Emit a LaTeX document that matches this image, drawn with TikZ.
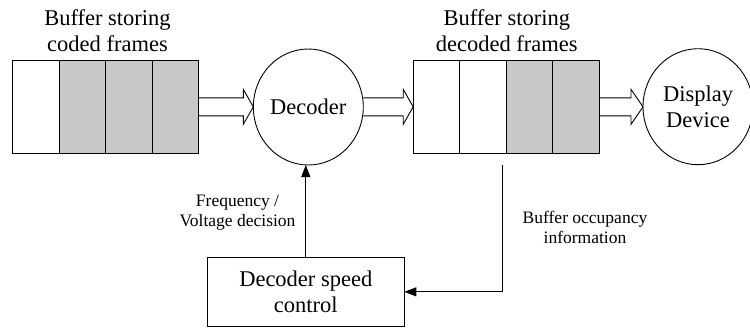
\documentclass[tikz,border=0pt]{standalone}
\usepackage{fontspec}
\setmainfont{Liberation Serif}
\usetikzlibrary{arrows.meta,shapes.geometric,calc}
\definecolor{cellgray}{RGB}{200,200,200}
\begin{document}
\begin{tikzpicture}[x=1pt,y=-1pt,
  line width=0.9pt,
  bigfont/.style={font=\fontsize{22.5}{26.7}\selectfont},
  smallfont/.style={font=\fontsize{17.5}{20.5}\selectfont},
  cell/.style={draw, minimum width=46.5pt, minimum height=92.3pt, inner sep=0pt, outer sep=0pt},
  fullcell/.style={cell, fill=cellgray},
  emptycell/.style={cell, fill=white},
  proc/.style={draw, ellipse, minimum width=110pt, minimum height=116pt, inner sep=0pt, outer sep=0pt, bigfont, align=center},
  ctrlbox/.style={draw, minimum width=197pt, minimum height=68.3pt, inner sep=0pt, outer sep=0pt, bigfont, align=center},
  lbl/.style={align=center, inner sep=0pt},
  sig/.style={-{Triangle[length=12pt,width=9pt]}},
  hollow/.style={draw, line join=miter}
]
\useasboundingbox (0,0) rectangle (750,327);
\clip (0,0) rectangle (750,327);

% buffer of coded frames
\node[emptycell] (a1) at (35.95,106.85) {};
\node[fullcell]  (a2) at (82.45,106.85) {};
\node[fullcell]  (a3) at (128.95,106.85) {};
\node[fullcell]  (a4) at (175.45,106.85) {};

% buffer of decoded frames
\node[emptycell] (b1) at (436.45,106.85) {};
\node[emptycell] (b2) at (482.95,106.85) {};
\node[fullcell]  (b3) at (529.45,106.85) {};
\node[fullcell]  (b4) at (575.95,106.85) {};

\node[proc] (dec) at (308.3,107) {Decoder};
\node[proc] (disp) at (698,106.7) {Display\\Device};
\node[ctrlbox] (ctrl) at (305.8,291.85) {Decoder speed\\control};

\node[lbl,bigfont] (t1) at (107.5,30.6) {Buffer storing\\coded frames};
\node[lbl,bigfont] (t2) at (506.8,30.6) {Buffer storing\\decoded frames};
\node[lbl,smallfont] (t3) at (237.5,212.75) {Frequency /\\Voltage decision};
\node[lbl,smallfont] (t4) at (585,227.65) {Buffer occupancy\\information};

% hollow data-flow arrows
\draw[hollow] let \p1=(a4.east), \p2=(dec.west) in
  (\x1,\y1+9pt) -- (\x2-10pt,\y1+9pt) -- (\x2-10pt,\y1+17.5pt) -- (\x2,\y1)
  -- (\x2-10pt,\y1-17.5pt) -- (\x2-10pt,\y1-9pt) -- (\x1,\y1-9pt);
\draw[hollow] let \p1=(dec.east), \p2=(b1.west) in
  (\x1,\y2+9pt) -- (\x2-10pt,\y2+9pt) -- (\x2-10pt,\y2+17.5pt) -- (\x2,\y2)
  -- (\x2-10pt,\y2-17.5pt) -- (\x2-10pt,\y2-9pt) -- (\x1,\y2-9pt);
\draw[hollow] let \p1=(b4.east), \p2=(disp.west) in
  (\x1,\y1+9pt) -- (\x2-12pt,\y1+9pt) -- (\x2-12pt,\y1+17.5pt) -- (\x2,\y1)
  -- (\x2-12pt,\y1-17.5pt) -- (\x2-12pt,\y1-9pt) -- (\x1,\y1-9pt);

% control arrows
\coordinate (fb) at (502.7,165);
\draw[sig] (fb) |- (ctrl.east);
\draw[sig] (ctrl.north) -- (ctrl.north |- dec.south);
\end{tikzpicture}
\end{document}
